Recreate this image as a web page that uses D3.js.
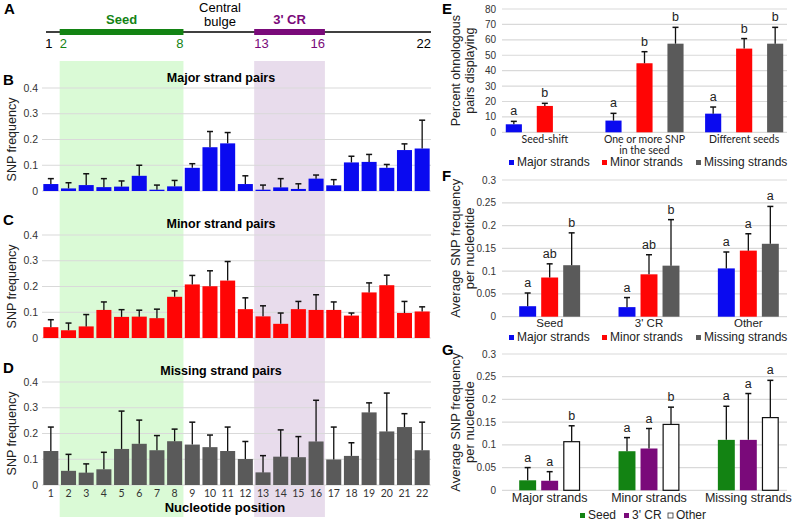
<!DOCTYPE html>
<html>
<head>
<meta charset="utf-8">
<script src="https://cdn.jsdelivr.net/npm/d3@7"></script>
<style>
  body { margin: 0; background: #fff; }
  svg { display: block; }
</style>
</head>
<body>
<svg id="fig" width="800" height="521"></svg>
<script>
// ---- data: panels B-D (SNP frequency by nucleotide position) ----
var positions = [1,2,3,4,5,6,7,8,9,10,11,12,13,14,15,16,17,18,19,20,21,22];

var majorMean  = [0.027,0.010,0.023,0.015,0.017,0.059,0.005,0.018,0.090,0.170,0.185,0.027,0.005,0.014,0.008,0.048,0.022,0.111,0.113,0.090,0.159,0.165];
var majorUpper = [0.048,0.032,0.067,0.048,0.039,0.100,0.023,0.041,0.106,0.231,0.227,0.059,0.023,0.048,0.028,0.062,0.044,0.135,0.142,0.103,0.183,0.275];

var minorMean  = [0.042,0.030,0.045,0.109,0.082,0.083,0.077,0.160,0.208,0.201,0.223,0.112,0.084,0.055,0.112,0.109,0.109,0.087,0.177,0.205,0.097,0.103];
var minorUpper = [0.071,0.058,0.091,0.140,0.110,0.108,0.112,0.183,0.243,0.261,0.297,0.156,0.125,0.097,0.142,0.168,0.140,0.097,0.214,0.244,0.142,0.121];

var missingMean  = [0.132,0.055,0.048,0.061,0.140,0.160,0.135,0.170,0.157,0.147,0.132,0.101,0.049,0.110,0.108,0.169,0.099,0.113,0.282,0.208,0.225,0.135];
var missingUpper = [0.225,0.119,0.082,0.127,0.287,0.252,0.192,0.217,0.244,0.194,0.225,0.169,0.114,0.214,0.188,0.329,0.225,0.164,0.319,0.357,0.277,0.244];

var snpTicks = [0, 0.1, 0.2, 0.3, 0.4];

// ---- data: panel E ----
var eGroups = ["Seed-shift", "One or more SNP|in the seed", "Different seeds"];
var eMajor = [5.2, 7.6, 12.1],    eMajorUp = [7.1, 12.3, 16.4],    eMajorLet = ["a", "a", "a"];
var eMinor = [17.1, 44.8, 54.3],  eMinorUp = [18.8, 52.3, 60.8],   eMinorLet = ["b", "b", "b"];
var eMissing = [null, 57.5, 57.5], eMissingUp = [null, 68.1, 68.1], eMissingLet = [null, "b", "b"];
var eTicks = [0, 10, 20, 30, 40, 50, 60, 70, 80];

// ---- data: panel F ----
var fGroups = ["Seed", "3' CR", "Other"];
var fMajor = [0.023, 0.021, 0.106],   fMajorUp = [0.052, 0.042, 0.142],   fMajorLet = ["a", "a", "a"];
var fMinor = [0.086, 0.093, 0.145],   fMinorUp = [0.116, 0.136, 0.182],   fMinorLet = ["ab", "ab", "a"];
var fMissing = [0.113, 0.112, 0.160], fMissingUp = [0.184, 0.213, 0.242], fMissingLet = ["b", "b", "a"];

// ---- data: panel G ----
var gGroups = ["Major strands", "Minor strands", "Missing strands"];
var gSeed = [0.022, 0.086, 0.111],  gSeedUp = [0.050, 0.116, 0.185],  gSeedLet = ["a", "a", "a"];
var gCr = [0.021, 0.092, 0.111],    gCrUp = [0.041, 0.136, 0.213],    gCrLet = ["a", "a", "a"];
var gOther = [0.107, 0.145, 0.160], gOtherUp = [0.142, 0.183, 0.242], gOtherLet = ["b", "b", "a"];
var avgTicks = [0, 0.05, 0.1, 0.15, 0.2, 0.25, 0.3];

var FONT = "'Liberation Sans', Arial, Helvetica, sans-serif";
var BLUE = "#0a0af0", RED = "#ff0505", GRAY = "#5a5a5a", GREEN = "#138313", PURPLE = "#7a0a7a";
var GRID = "#d9d9d9", TXT = "#333";

var svg = d3.select("#fig");

function fmt(v) { return String(+v.toFixed(2)); }

// ===== left column: position scale shared by A-D =====
var xPos = d3.scaleBand()
    .domain(positions)
    .range([42, 431])
    .paddingInner(0.15)
    .paddingOuter(0.075);
var step = xPos.step();
function bandStart(p) { return xPos(p) - step * 0.075; }
function bandEnd(p) { return xPos(p) + xPos.bandwidth() + step * 0.075; }

// background shading for seed (2-8) and 3' CR (13-16)
svg.append("rect")
    .attr("x", bandStart(2)).attr("y", 61)
    .attr("width", bandEnd(8) - bandStart(2)).attr("height", 456)
    .attr("fill", "#dafad6");
svg.append("rect")
    .attr("x", bandStart(13)).attr("y", 61)
    .attr("width", bandEnd(16) - bandStart(13)).attr("height", 456)
    .attr("fill", "#e8dcec");

// ----- panel A: miRNA schematic -----
var a = svg.append("g").style("font-family", FONT);
a.append("text").attr("x", 4).attr("y", 14).text("A")
    .style("font-weight", "bold").style("font-size", "15px");
a.append("line")
    .attr("x1", 46).attr("x2", 431).attr("y1", 32).attr("y2", 32)
    .attr("stroke", "#000").attr("stroke-width", 1.5);
a.append("rect")
    .attr("x", bandStart(2)).attr("y", 29)
    .attr("width", bandEnd(8) - bandStart(2)).attr("height", 6)
    .attr("fill", GREEN);
a.append("rect")
    .attr("x", bandStart(13)).attr("y", 29)
    .attr("width", bandEnd(16) - bandStart(13)).attr("height", 6)
    .attr("fill", PURPLE);
a.append("text").attr("x", (bandStart(2) + bandEnd(8)) / 2).attr("y", 24)
    .attr("text-anchor", "middle").text("Seed")
    .style("font-weight", "bold").style("font-size", "13px").attr("fill", GREEN);
a.append("text").attr("x", (bandStart(13) + bandEnd(16)) / 2).attr("y", 24)
    .attr("text-anchor", "middle").text("3' CR")
    .style("font-weight", "bold").style("font-size", "13px").attr("fill", PURPLE);
a.append("text").attr("x", 220).attr("y", 12).attr("text-anchor", "middle")
    .text("Central").style("font-size", "13px");
a.append("text").attr("x", 220).attr("y", 26).attr("text-anchor", "middle")
    .text("bulge").style("font-size", "13px");

var aNums = [
    { t: "1",  x: xPos(1) + xPos.bandwidth() / 2 - 2, anchor: "middle", c: "#000" },
    { t: "2",  x: bandStart(2), anchor: "start", c: GREEN },
    { t: "8",  x: bandEnd(8), anchor: "end", c: GREEN },
    { t: "13", x: bandStart(13), anchor: "start", c: PURPLE },
    { t: "16", x: bandEnd(16), anchor: "end", c: PURPLE },
    { t: "22", x: bandEnd(22), anchor: "end", c: "#000" }
];
a.selectAll("text.num").data(aNums).enter().append("text")
    .attr("class", "num")
    .attr("x", function (d) { return d.x; })
    .attr("y", 48)
    .attr("text-anchor", function (d) { return d.anchor; })
    .attr("fill", function (d) { return d.c; })
    .style("font-size", "13px")
    .text(function (d) { return d.t; });

// ----- panels B, C, D -----
function drawPositionPanel(cfg) {
    var y = d3.scaleLinear().domain([0, 0.4]).range([cfg.y0, cfg.y4]);
    var g = svg.append("g").style("font-family", FONT);

    g.append("text").attr("x", 3).attr("y", cfg.labelY).text(cfg.label)
        .style("font-weight", "bold").style("font-size", "15px");
    g.append("text").attr("x", 221).attr("y", cfg.titleY).attr("text-anchor", "middle")
        .text(cfg.title).style("font-weight", "bold").style("font-size", "12.5px");

    g.selectAll("line.grid").data(snpTicks).enter().append("line")
        .attr("class", "grid")
        .attr("x1", 42).attr("x2", 431)
        .attr("y1", function (d) { return y(d); }).attr("y2", function (d) { return y(d); })
        .attr("stroke", GRID).attr("stroke-width", 1.2);

    g.selectAll("text.ytick").data(snpTicks).enter().append("text")
        .attr("class", "ytick")
        .attr("x", 38).attr("y", function (d) { return y(d) + 3.5; })
        .attr("text-anchor", "end").attr("fill", TXT)
        .style("font-size", "10.5px")
        .text(fmt);

    g.append("text")
        .attr("transform", "translate(16," + ((cfg.y0 + cfg.y4) / 2) + ") rotate(-90)")
        .attr("text-anchor", "middle").text("SNP frequency")
        .style("font-size", "12.5px").attr("fill", "#222");

    var data = positions.map(function (p, i) { return { p: p, m: cfg.mean[i], u: cfg.upper[i] }; });

    g.selectAll("rect.bar").data(data).enter().append("rect")
        .attr("class", "bar")
        .attr("x", function (d) { return xPos(d.p); })
        .attr("width", xPos.bandwidth())
        .attr("y", function (d) { return y(d.m); })
        .attr("height", function (d) { return y(0) - y(d.m); })
        .attr("fill", cfg.color);

    var eb = g.selectAll("g.err").data(data).enter().append("g").attr("class", "err");
    eb.append("line")
        .attr("x1", function (d) { return xPos(d.p) + xPos.bandwidth() / 2; })
        .attr("x2", function (d) { return xPos(d.p) + xPos.bandwidth() / 2; })
        .attr("y1", function (d) { return y(d.m); })
        .attr("y2", function (d) { return y(d.u); })
        .attr("stroke", "#111").attr("stroke-width", 1.3);
    eb.append("line")
        .attr("x1", function (d) { return xPos(d.p) + xPos.bandwidth() / 2 - 3; })
        .attr("x2", function (d) { return xPos(d.p) + xPos.bandwidth() / 2 + 3; })
        .attr("y1", function (d) { return y(d.u); })
        .attr("y2", function (d) { return y(d.u); })
        .attr("stroke", "#111").attr("stroke-width", 1.5);

    if (cfg.xTicks) {
        g.selectAll("text.xtick").data(positions).enter().append("text")
            .attr("class", "xtick")
            .attr("x", function (d) { return xPos(d) + xPos.bandwidth() / 2; })
            .attr("y", cfg.y0 + 12)
            .attr("text-anchor", "middle").attr("fill", TXT)
            .style("font-family", "Lato, 'Open Sans', sans-serif")
            .style("font-size", "10.5px")
            .text(function (d) { return d; });
        g.append("text").attr("x", 225).attr("y", cfg.y0 + 27).attr("text-anchor", "middle")
            .text("Nucleotide position").style("font-weight", "bold").style("font-size", "13px");
    }
}

drawPositionPanel({ label: "B", labelY: 85, title: "Major strand pairs", titleY: 82,
    y4: 88, y0: 191, mean: majorMean, upper: majorUpper, color: BLUE });
drawPositionPanel({ label: "C", labelY: 225, title: "Minor strand pairs", titleY: 228,
    y4: 235, y0: 338, mean: minorMean, upper: minorUpper, color: RED });
drawPositionPanel({ label: "D", labelY: 373, title: "Missing strand pairs", titleY: 375,
    y4: 382, y0: 485, mean: missingMean, upper: missingUpper, color: GRAY, xTicks: true });

// ===== right column: grouped bar charts =====
function drawGroupPanel(cfg) {
    var g = svg.append("g").style("font-family", FONT);
    var y = d3.scaleLinear().domain([0, cfg.yMax]).range([cfg.y0, cfg.yTop]);
    var x0 = d3.scaleBand().domain(cfg.groups).range(cfg.xRange);
    var innerW = cfg.innerStep * (cfg.series.length - cfg.innerPad);
    var x1 = d3.scaleBand().domain(d3.range(cfg.series.length))
        .range([(x0.bandwidth() - innerW) / 2, (x0.bandwidth() + innerW) / 2])
        .paddingInner(cfg.innerPad).paddingOuter(0);

    g.append("text").attr("x", 442).attr("y", cfg.labelY).text(cfg.label)
        .style("font-weight", "bold").style("font-size", "15px");

    g.selectAll("line.grid").data(cfg.ticks).enter().append("line")
        .attr("class", "grid")
        .attr("x1", 502).attr("x2", 787)
        .attr("y1", function (d) { return y(d); }).attr("y2", function (d) { return y(d); })
        .attr("stroke", GRID).attr("stroke-width", 1.2);

    g.selectAll("text.ytick").data(cfg.ticks).enter().append("text")
        .attr("class", "ytick")
        .attr("x", 496).attr("y", function (d) { return y(d) + 3.5; })
        .attr("text-anchor", "end").attr("fill", TXT)
        .style("font-size", "10px")
        .text(fmt);

    var midY = (cfg.y0 + cfg.yTop) / 2;
    cfg.yTitle.forEach(function (t, i) {
        g.append("text")
            .attr("transform", "translate(" + (460 + i * 14) + "," + midY + ") rotate(-90)")
            .attr("text-anchor", "middle").text(t)
            .style("font-size", cfg.yTitleSize).attr("fill", "#222");
    });

    cfg.series.forEach(function (s, si) {
        var data = cfg.groups.map(function (grp, gi) {
            return { grp: grp, m: s.vals[gi], u: s.ups[gi], l: s.lets[gi] };
        }).filter(function (d) { return d.m != null; });
        var sg = g.append("g");
        function cx(d) { return x0(d.grp) + x1(si) + x1.bandwidth() / 2; }

        sg.selectAll("rect").data(data).enter().append("rect")
            .attr("x", function (d) { return x0(d.grp) + x1(si) + (s.stroke ? 0.6 : 0); })
            .attr("width", x1.bandwidth() - (s.stroke ? 1.2 : 0))
            .attr("y", function (d) { return y(d.m); })
            .attr("height", function (d) { return y(0) - y(d.m); })
            .attr("fill", s.fill)
            .attr("stroke", s.stroke || "none")
            .attr("stroke-width", 1.2);
        sg.selectAll("line.v").data(data).enter().append("line")
            .attr("class", "v")
            .attr("x1", cx).attr("x2", cx)
            .attr("y1", function (d) { return y(d.m); })
            .attr("y2", function (d) { return y(d.u); })
            .attr("stroke", "#111").attr("stroke-width", 1.3);
        sg.selectAll("line.cap").data(data).enter().append("line")
            .attr("class", "cap")
            .attr("x1", function (d) { return cx(d) - 3; })
            .attr("x2", function (d) { return cx(d) + 3; })
            .attr("y1", function (d) { return y(d.u); })
            .attr("y2", function (d) { return y(d.u); })
            .attr("stroke", "#111").attr("stroke-width", 1.5);
        sg.selectAll("text.let").data(data).enter().append("text")
            .attr("class", "let")
            .attr("x", cx)
            .attr("y", function (d) { return y(d.u) - 6; })
            .attr("text-anchor", "middle").attr("fill", "#222")
            .style("font-size", "12.5px")
            .text(function (d) { return d.l; });
    });

    cfg.groups.forEach(function (grp) {
        grp.split("|").forEach(function (line, li) {
            g.append("text")
                .attr("x", x0(grp) + x0.bandwidth() / 2)
                .attr("y", cfg.y0 + cfg.xLabelDy + li * 11)
                .attr("text-anchor", "middle").attr("fill", "#222")
                .style("font-family", cfg.xFont)
                .style("font-size", cfg.xFontSize)
                .text(line);
        });
    });

    var leg = g.selectAll("g.leg").data(cfg.legend).enter().append("g").attr("class", "leg")
        .attr("transform", function (d) { return "translate(" + d.x + "," + cfg.legendY + ")"; });
    leg.append("rect")
        .attr("x", 0).attr("y", -6).attr("width", 5).attr("height", 5)
        .attr("fill", function (d) { return d.fill; })
        .attr("stroke", function (d) { return d.stroke || "none"; })
        .attr("stroke-width", 0.8);
    leg.append("text")
        .attr("x", 8).attr("y", 0)
        .attr("fill", "#222")
        .style("font-size", "12px")
        .text(function (d) { return d.name; });
}

drawGroupPanel({
    label: "E", labelY: 14,
    groups: eGroups, yMax: 80, ticks: eTicks, y0: 132.3, yTop: 9,
    xRange: [495, 794], innerStep: 31, innerPad: 0.48,
    yTitle: ["Percent ohnologous", "pairs displaying"], yTitleSize: "12.5px",
    xLabelDy: 11, xFont: "Lato, 'Open Sans', sans-serif", xFontSize: "10.5px",
    series: [
        { vals: eMajor, ups: eMajorUp, lets: eMajorLet, fill: BLUE },
        { vals: eMinor, ups: eMinorUp, lets: eMinorLet, fill: RED },
        { vals: eMissing, ups: eMissingUp, lets: eMissingLet, fill: GRAY }
    ],
    legendY: 166,
    legend: [
        { name: "Major strands", fill: BLUE, x: 509 },
        { name: "Minor strands", fill: RED, x: 602 },
        { name: "Missing strands", fill: GRAY, x: 696 }
    ]
});

drawGroupPanel({
    label: "F", labelY: 181,
    groups: fGroups, yMax: 0.3, ticks: avgTicks, y0: 316.7, yTop: 180,
    xRange: [500, 798], innerStep: 22, innerPad: 0.23,
    yTitle: ["Average SNP frequency", "per nucleotide"], yTitleSize: "13px",
    xLabelDy: 10, xFont: FONT, xFontSize: "11.5px",
    series: [
        { vals: fMajor, ups: fMajorUp, lets: fMajorLet, fill: BLUE },
        { vals: fMinor, ups: fMinorUp, lets: fMinorLet, fill: RED },
        { vals: fMissing, ups: fMissingUp, lets: fMissingLet, fill: GRAY }
    ],
    legendY: 341,
    legend: [
        { name: "Major strands", fill: BLUE, x: 509 },
        { name: "Minor strands", fill: RED, x: 602 },
        { name: "Missing strands", fill: GRAY, x: 696 }
    ]
});

drawGroupPanel({
    label: "G", labelY: 355,
    groups: gGroups, yMax: 0.3, ticks: avgTicks, y0: 490.3, yTop: 354,
    xRange: [500, 798], innerStep: 22, innerPad: 0.23,
    yTitle: ["Average SNP frequency", "per nucleotide"], yTitleSize: "13px",
    xLabelDy: 12, xFont: FONT, xFontSize: "12.5px",
    series: [
        { vals: gSeed, ups: gSeedUp, lets: gSeedLet, fill: GREEN },
        { vals: gCr, ups: gCrUp, lets: gCrLet, fill: PURPLE },
        { vals: gOther, ups: gOtherUp, lets: gOtherLet, fill: "#fff", stroke: "#111" }
    ],
    legendY: 519,
    legend: [
        { name: "Seed", fill: GREEN, x: 580 },
        { name: "3' CR", fill: PURPLE, x: 624 },
        { name: "Other", fill: "#fff", stroke: "#333", x: 668 }
    ]
});
</script>
</body>
</html>
